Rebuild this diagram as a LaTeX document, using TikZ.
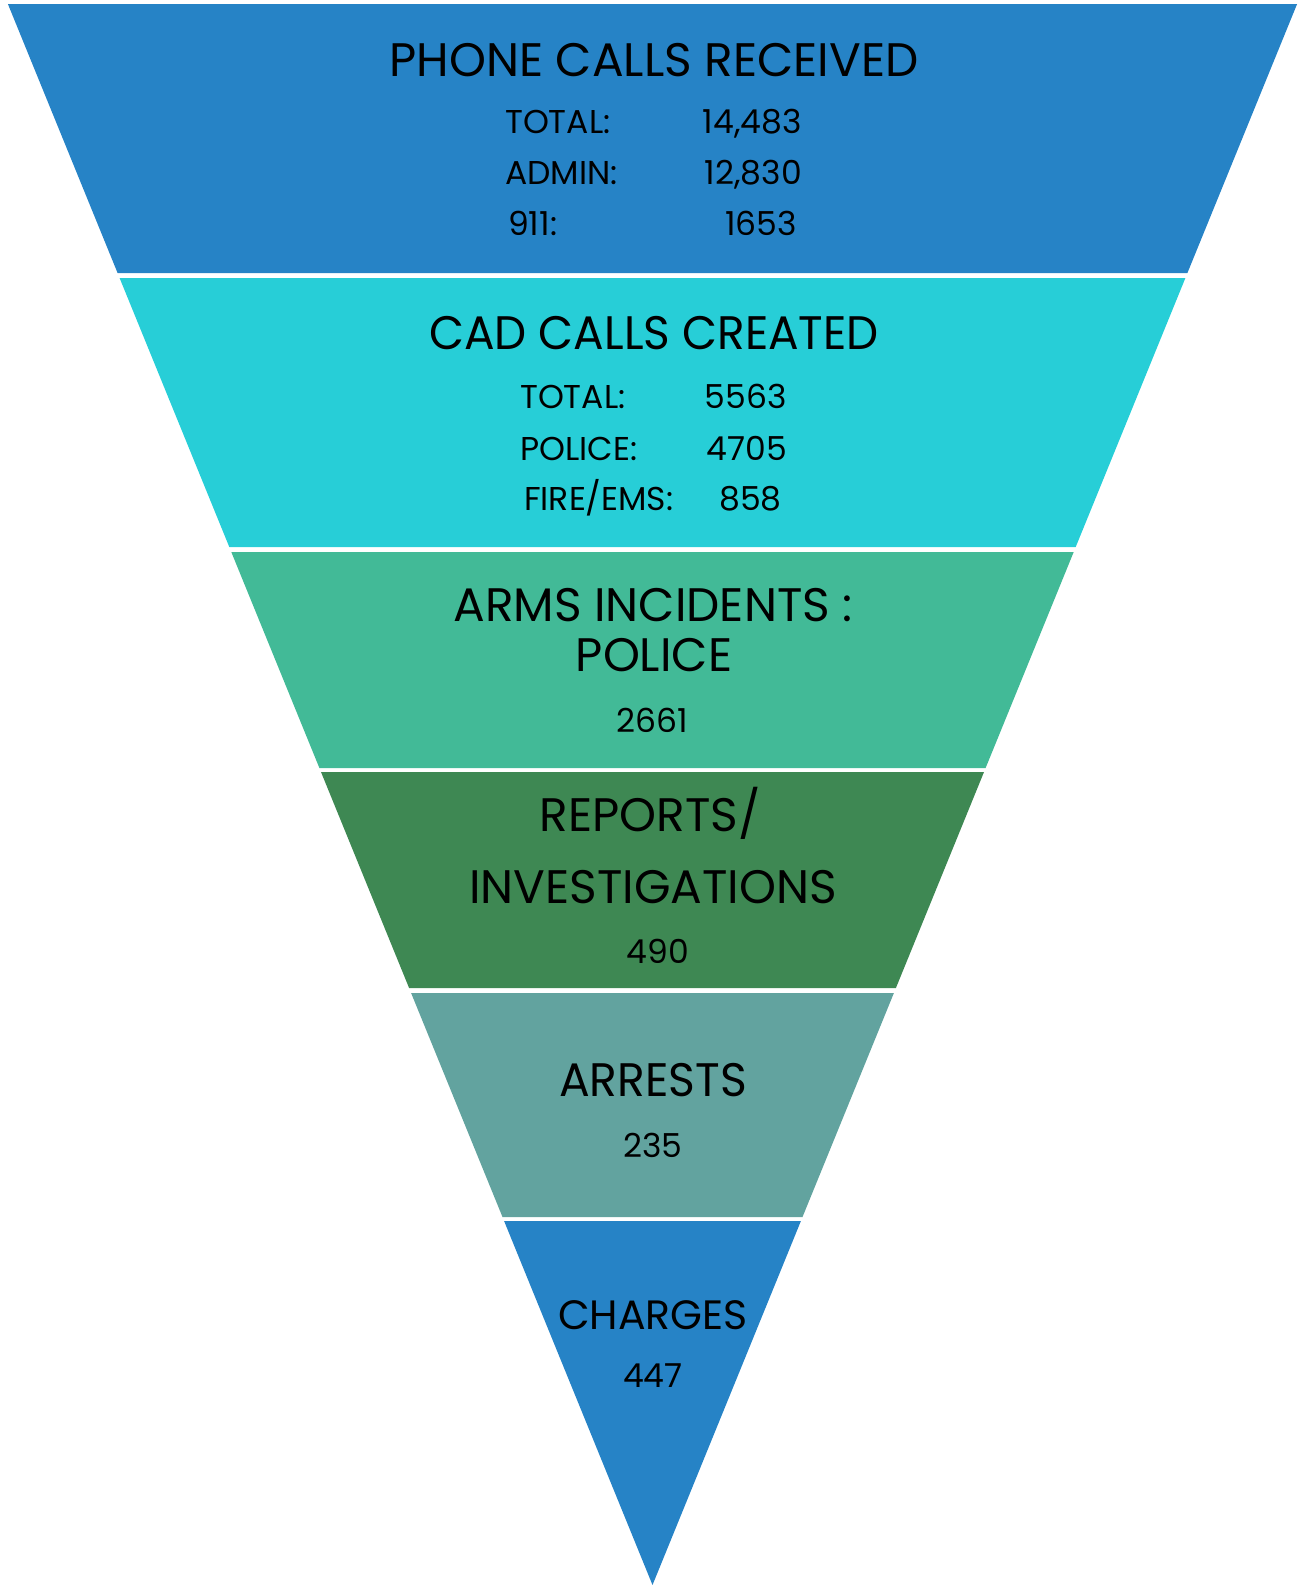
\documentclass[tikz,border=0pt]{standalone}
\usepackage{fontspec}
\setmainfont{Poppins}
\definecolor{cA}{HTML}{2683C6}
\definecolor{cB}{HTML}{27CED7}
\definecolor{cC}{HTML}{42BA97}
\definecolor{cD}{HTML}{3E8853}
\definecolor{cE}{HTML}{62A39F}
\tikzset{
  hd/.style={anchor=base, inner sep=0pt, font=\fontsize{47}{47}\selectfont, text=black},
  hdsmall/.style={hd, font=\fontsize{41}{41}\selectfont},
  sm/.style={anchor=base west, inner sep=0pt, font=\fontsize{33}{33}\selectfont, text=black},
  smr/.style={anchor=base east, inner sep=0pt, font=\fontsize{33}{33}\selectfont, text=black},
  smc/.style={anchor=base, inner sep=0pt, font=\fontsize{33}{33}\selectfont, text=black},
}
\begin{document}
\begin{tikzpicture}[x=1pt,y=-1pt]
\useasboundingbox (0,0) rectangle (1298,1585);
\fill[cA] (7.9,4) -- (1297.1,4) -- (1187.4,273) -- (117.6,273) -- cycle;
\fill[cB] (119.6,278) -- (1185.4,278) -- (1075.7,547) -- (229.3,547) -- cycle;
\fill[cC] (231.3,552) -- (1073.7,552) -- (985.6,768) -- (319.4,768) -- cycle;
\fill[cD] (321.0,772) -- (984.0,772) -- (895.9,988) -- (409.1,988) -- cycle;
\fill[cE] (411.1,993) -- (893.9,993) -- (802.5,1217) -- (502.5,1217) -- cycle;
\fill[cA] (504.1,1221) -- (800.9,1221) -- (652.5,1585) -- cycle;
% band 1
\node[hd] (h1) at (654,76) {PHONE CALLS RECEIVED};
\node[sm] (l1a) at (505,133) {TOTAL:};
\node[smr] (n1a) at (802,133) {14,483};
\node[sm] (l1b) at (505,184) {ADMIN:};
\node[smr] (n1b) at (802,184) {12,830};
\node[sm] (l1c) at (508,235) {911:};
\node[smr] (n1c) at (797,235) {1653};
% band 2
\node[hd] (h2) at (654,349) {\scalebox{0.965}[1]{CAD CALLS CREATED}};
\node[sm] (l2a) at (520,408) {TOTAL:};
\node[smr] (n2a) at (787,408) {5563};
\node[sm] (l2b) at (520,460) {POLICE:};
\node[smr] (n2b) at (787,460) {4705};
\node[sm] (l2c) at (524,510) {FIRE/EMS:};
\node[smr] (n2c) at (782,510) {858};
% band 3
\node[hd] (h3a) at (653,621) {ARMS INCIDENTS :};
\node[hd] (h3b) at (654,671) {POLICE};
\node[smc] (n3) at (652,732) {2661};
% band 4
\node[hd] (h4a) at (650,831) {REPORTS/};
\node[hd] (h4b) at (653,903) {INVESTIGATIONS};
\node[smc] (n4) at (658,963) {490};
% band 5
\node[hd] (h5) at (653,1096) {\scalebox{0.97}[1]{ARRESTS}};
\node[smc] (n5) at (653,1157) {235};
% band 6
\node[hdsmall] (h6) at (653,1329) {CHARGES};
\node[smc] (n6) at (653,1387) {447};
\end{tikzpicture}
\end{document}
